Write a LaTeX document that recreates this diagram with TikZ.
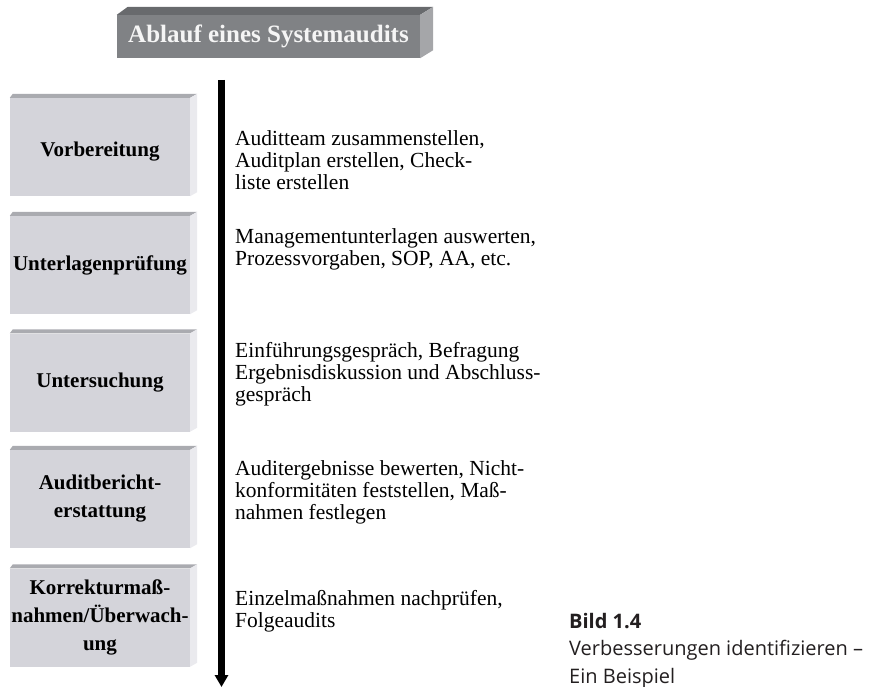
\documentclass[tikz,border=0pt]{standalone}
\usepackage{fontspec}
\setmainfont{Liberation Serif}
\newfontfamily\capfont{Open Sans}
\usetikzlibrary{arrows.meta,calc}
\definecolor{facecol}{RGB}{212,212,218}
\definecolor{topcol}{RGB}{170,171,176}
\definecolor{sidecol}{RGB}{234,234,238}
\definecolor{tfacecol}{RGB}{128,130,133}
\definecolor{ttopcol}{RGB}{104,106,109}
\definecolor{tsidecol}{RGB}{165,166,169}
\definecolor{captext}{RGB}{35,31,32}
\tikzset{
  stage/.style={fill=facecol, minimum width=180pt, minimum height=98pt, inner sep=0pt,
    align=center, font=\bfseries\fontsize{21}{28}\selectfont, text=black},
  note/.style={anchor=north west, align=left, inner sep=0pt,
    font=\fontsize{21.5}{22}\selectfont, text=black},
  flow/.style={line width=7pt, -{Triangle[width=13pt,length=12pt]}},
}
\newcommand{\bevel}[1]{%
  \fill[topcol] (#1.north west) -- ++(3,-4) -- ($(#1.north east)+(7,-4)$) -- (#1.north east) -- cycle;
  \fill[sidecol] (#1.north east) -- ++(7,-4) -- ($(#1.south east)+(7,-4)$) -- (#1.south east) -- cycle;
}
\begin{document}
\begin{tikzpicture}[x=1pt,y=-1pt]
\useasboundingbox (0,0) rectangle (872,687);
\clip (0,0) rectangle (872,687);
% title
\node[fill=tfacecol, minimum width=303pt, minimum height=43pt, inner sep=0pt,
  font=\bfseries\fontsize{25}{28}\selectfont, text={rgb,255:red,245;green,245;blue,245}]
  (title) at (268.5,36.5) {Ablauf eines Systemaudits};
\fill[ttopcol] (title.north west) -- ++(11,-8) -- ($(title.north east)+(13,-8)$) -- (title.north east) -- cycle;
\fill[tsidecol] (title.north east) -- ++(13,-8) -- ($(title.south east)+(13,-8)$) -- (title.south east) -- cycle;
% stages
\node[stage] (s1) at (100,147) {\raisebox{-5pt}[\height][\depth]{Vorbereitung}};
\node[stage] (s2) at (100,265) {Unterlagenprüfung};
\node[stage] (s3) at (100,382.5) {Untersuchung};
\node[stage] (s4) at (100,499) {Auditbericht-\\erstattung};
\node[stage] (s5) at (100,617.5) {Korrekturmaß-\\nahmen/Überwach-\\ung};
\bevel{s1}\bevel{s2}\bevel{s3}\bevel{s4}\bevel{s5}
% arrow
\coordinate (atop) at (221.5,80);
\coordinate (abot) at (221.5,687);
\draw[flow] (atop) -- (abot);
% notes
\node[note] (n1) at (235,130.3) {Auditteam zusammenstellen,\\Auditplan erstellen, Check-\\liste erstellen};
\node[note] (n2) at (235,228.3) {Managementunterlagen auswerten,\\Prozessvorgaben, SOP, AA, etc.};
\node[note] (n3) at (235,342.3) {Einführungsgespräch, Befragung\\Ergebnisdiskussion und Abschluss-\\gespräch};
\node[note] (n4) at (235,460.3) {Auditergebnisse bewerten, Nicht-\\konformitäten feststellen, Maß-\\nahmen festlegen};
\node[note] (n5) at (235,590.3) {Einzelmaßnahmen nachprüfen,\\Folgeaudits};
% caption
\node[anchor=north west, align=left, inner sep=0pt, text=captext,
  font=\capfont\fontsize{20}{27.5}\selectfont] (cap) at (569,613)
  {\textbf{Bild 1.4}\\Verbesserungen identifizieren –\\Ein Beispiel};
\end{tikzpicture}
\end{document}
